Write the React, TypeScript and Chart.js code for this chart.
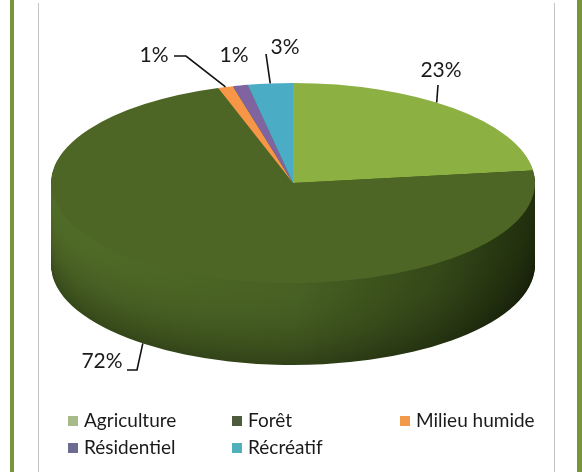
import React, { useEffect, useRef } from 'react';
import { Chart, registerables } from 'chart.js';

Chart.register(...registerables);

// ---- data ----
const categories = ['Agriculture', 'Forêt', 'Milieu humide', 'Résidentiel', 'Récréatif'];
const values = [23, 72, 1, 1, 3];
const percentLabels = ['23%', '72%', '1%', '1%', '3%'];
const sliceColors = ['#8DB043', '#4D6626', '#F79646', '#8064A2', '#4BACC6'];
const legendColors = ['#A8B98A', '#4E5A3C', '#F29A4C', '#6E6B93', '#4DB0BA'];

// ---- layout (style, not data) ----
const CX = 293;
const CY = 183;
const RX = 242;
const RY = 100;
const DEPTH = 82;
const FONT = 'Lato, "Open Sans", sans-serif';

type LabelLayout = { tx: number; ty: number; lead: number[][] | null; at: number; bottom?: boolean };
const labelLayout: LabelLayout[] = [
  { tx: 441, ty: 70, lead: [[438, 85]], at: 0.44 },
  { tx: 102, ty: 361, lead: [[127, 370], [137, 370]], at: 0.523, bottom: true },
  { tx: 154, ty: 55, lead: [[174, 56], [186, 56]], at: 0.5 },
  { tx: 234, ty: 55, lead: null, at: 0.5 },
  { tx: 285, ty: 47, lead: [[266, 54]], at: 0.5 },
];
const legendCols = [68, 232, 400];
const legendRows = [421, 448];

const pie3d = {
  id: 'pie3d',
  beforeDatasetsDraw(chart: any) {
    const meta = chart.getDatasetMeta(0);
    const ctx: CanvasRenderingContext2D = chart.ctx;
    const el0 = meta.data[0];
    const { x, y, outerRadius } = el0;
    // side walls
    for (let d = DEPTH; d >= 1; d--) {
      const t = d / DEPTH;
      const g = ctx.createLinearGradient(CX - RX, 0, CX + RX, 0);
      const k = 1 - 0.32 * t * t;
      const mix = (r: number, gg: number, b: number) =>
        `rgb(${Math.round(r * k)},${Math.round(gg * k)},${Math.round(b * k)})`;
      g.addColorStop(0, mix(80, 107, 39));
      g.addColorStop(0.5, mix(72, 97, 35));
      g.addColorStop(0.8, mix(52, 72, 24));
      g.addColorStop(1, mix(32, 46, 13));
      meta.data.forEach((el: any) => {
        ctx.beginPath();
        ctx.moveTo(CX, CY + d);
        ctx.ellipse(CX, CY + d, RX, RY, 0, el.startAngle, el.endAngle);
        ctx.closePath();
        ctx.fillStyle = g;
        ctx.fill();
      });
    }
    ctx.save();
    ctx.translate(CX, CY);
    ctx.scale(RX / outerRadius, RY / outerRadius);
    ctx.translate(-x, -y);
  },
  afterDatasetsDraw(chart: any) {
    chart.ctx.restore();
  },
  afterDraw(chart: any) {
    const meta = chart.getDatasetMeta(0);
    const ctx: CanvasRenderingContext2D = chart.ctx;
    ctx.save();
    // data labels + leader lines
    ctx.fillStyle = '#1a1a1a';
    ctx.strokeStyle = '#111';
    ctx.lineWidth = 1.6;
    ctx.font = `21px ${FONT}`;
    ctx.textAlign = 'center';
    ctx.textBaseline = 'middle';
    meta.data.forEach((el: any, i: number) => {
      const L = labelLayout[i];
      ctx.fillText(percentLabels[i], L.tx, L.ty);
      if (L.lead) {
        const a = el.startAngle + (el.endAngle - el.startAngle) * L.at;
        const ex = CX + RX * Math.cos(a);
        const ey = CY + RY * Math.sin(a) + (L.bottom ? DEPTH : 0);
        ctx.beginPath();
        ctx.moveTo(L.lead[0][0], L.lead[0][1]);
        for (let j = 1; j < L.lead.length; j++) ctx.lineTo(L.lead[j][0], L.lead[j][1]);
        ctx.lineTo(ex, ey);
        ctx.stroke();
      }
    });
    // legend
    ctx.font = `19px ${FONT}`;
    ctx.textAlign = 'left';
    ctx.textBaseline = 'middle';
    categories.forEach((c, i) => {
      const col = legendCols[i % 3];
      const row = legendRows[Math.floor(i / 3)];
      ctx.fillStyle = legendColors[i];
      ctx.fillRect(col, row - 5, 10, 10);
      ctx.fillStyle = '#1a1a1a';
      ctx.fillText(c, col + 16, row);
    });
    ctx.restore();
  },
};

export default function App() {
  const ref = useRef<HTMLCanvasElement | null>(null);
  useEffect(() => {
    if (!ref.current) return;
    const chart = new Chart(ref.current, {
      type: 'pie',
      data: {
        labels: categories,
        datasets: [
          {
            data: values,
            backgroundColor: sliceColors,
            borderWidth: 0,
            clip: false as any,
          },
        ],
      },
      options: {
        responsive: false,
        animation: false,
        events: [],
        layout: { padding: 0 },
        plugins: { legend: { display: false }, tooltip: { enabled: false } },
      },
      plugins: [pie3d],
    });
    return () => chart.destroy();
  }, []);
  return (
    <div style={{ position: 'absolute', left: 0, top: 0, width: 582, height: 472, background: '#fff', overflow: 'hidden' }}>
      <div style={{ position: 'absolute', left: 10, top: 0, width: 4, height: 472, background: '#77963A' }} />
      <div style={{ position: 'absolute', left: 38, top: 3, width: 1, height: 469, background: '#C4C4C4' }} />
      <div style={{ position: 'absolute', left: 554, top: 3, width: 1, height: 469, background: '#C4C4C4' }} />
      <div style={{ position: 'absolute', left: 577, top: 0, width: 5, height: 472, background: '#77963A' }} />
      <canvas ref={ref} width={582} height={472} style={{ position: 'absolute', left: 0, top: 0 }} />
    </div>
  );
}
